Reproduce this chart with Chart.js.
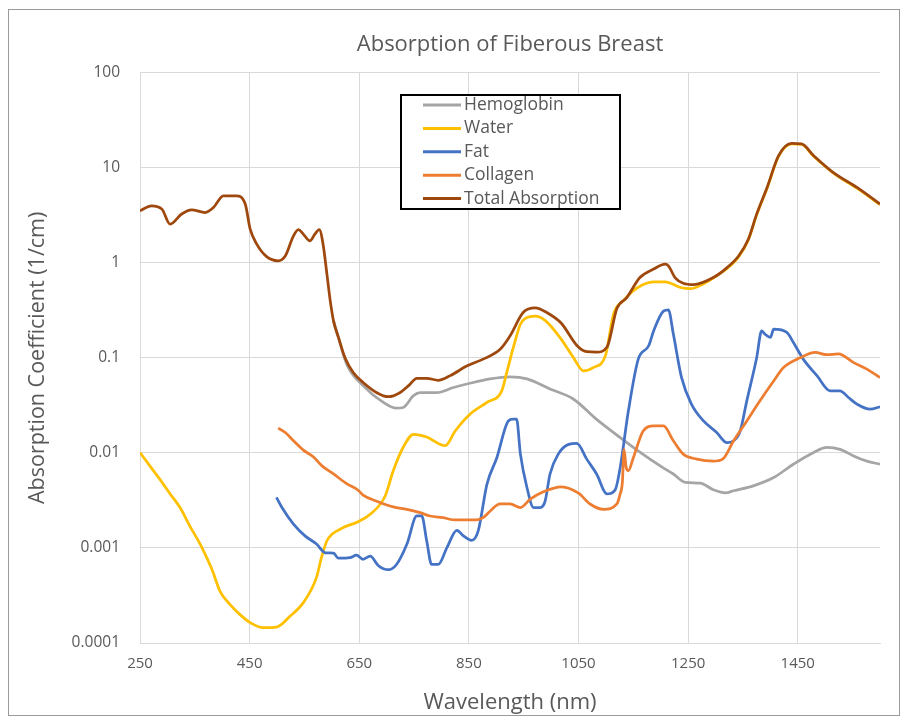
<!DOCTYPE html>
<html>
<head>
<meta charset="utf-8">
<script src="https://cdn.jsdelivr.net/npm/chart.js@4.4.0/dist/chart.umd.min.js"></script>
<style>
  body { margin: 0; background: #fff; }
</style>
</head>
<body>
<canvas id="myChart" width="902" height="719"></canvas>
<script>
// ---------------- data ----------------
var seriesNames = ['Hemoglobin', 'Water', 'Fat', 'Collagen', 'Total Absorption'];
var seriesColors = ['#A5A5A5', '#FFC000', '#4472C4', '#ED7D31', '#9E480E'];

var xTicks = [250, 450, 650, 850, 1050, 1250, 1450];
var yTicks = [100, 10, 1, 0.1, 0.01, 0.001, 0.0001];

var hbNm = [603, 612, 627, 657, 694, 718, 730, 749, 761, 791, 822, 852, 889, 925, 956, 998, 1041, 1083, 1126, 1162, 1199, 1223, 1245, 1272, 1296, 1318, 1333, 1369, 1406, 1442, 1479, 1503, 1527, 1552, 1576, 1600];
var hbVal = [0.245, 0.164, 0.086, 0.051, 0.034, 0.0295, 0.030, 0.040, 0.043, 0.043, 0.0487, 0.054, 0.060, 0.063, 0.060, 0.047, 0.0367, 0.0225, 0.0145, 0.0102, 0.0073, 0.0060, 0.0049, 0.0048, 0.0041, 0.0038, 0.0040, 0.0045, 0.0055, 0.0076, 0.0101, 0.0114, 0.0109, 0.0093, 0.0082, 0.0076];

var waterNm = [250, 268, 286, 305, 323, 341, 363, 381, 396, 414, 432, 451, 475, 499, 524, 548, 572, 581, 591, 600, 621, 648, 670, 697, 712, 730, 749, 773, 807, 825, 852, 883, 910, 919, 931, 944, 953, 971, 990, 1016, 1041, 1059, 1077, 1099, 1114, 1132, 1156, 1187, 1208, 1236, 1254, 1278, 1302, 1321, 1342, 1360, 1375, 1394, 1415, 1439, 1457, 1479, 1515, 1558, 1600];
var waterVal = [0.0101, 0.0073, 0.0053, 0.0037, 0.00266, 0.0017, 0.00101, 0.0006, 0.00035, 0.000255, 0.0002, 0.000164, 0.000145, 0.000147, 0.000192, 0.000266, 0.00049, 0.00079, 0.00119, 0.00139, 0.00164, 0.00189, 0.00226, 0.0035, 0.0065, 0.0114, 0.0157, 0.0147, 0.0119, 0.017, 0.0255, 0.034, 0.045, 0.07, 0.128, 0.226, 0.26, 0.275, 0.245, 0.164, 0.10, 0.073, 0.079, 0.105, 0.29, 0.40, 0.54, 0.63, 0.63, 0.55, 0.535, 0.60, 0.73, 0.87, 1.15, 1.75, 3.2, 6.1, 13.2, 17.8, 17.6, 13.2, 8.8, 6.1, 4.1];

var fatNm = [499, 509, 530, 551, 572, 588, 603, 612, 633, 645, 657, 670, 685, 703, 718, 737, 755, 764, 773, 782, 794, 810, 828, 840, 855, 867, 883, 901, 922, 931, 937, 944, 956, 968, 980, 989, 998, 1013, 1032, 1047, 1065, 1083, 1102, 1117, 1126, 1141, 1159, 1178, 1187, 1205, 1214, 1223, 1238, 1256, 1278, 1302, 1321, 1333, 1345, 1357, 1375, 1384, 1390, 1400, 1406, 1430, 1442, 1460, 1485, 1509, 1527, 1543, 1558, 1582, 1600];
var fatVal = [0.0034, 0.00266, 0.00178, 0.00134, 0.0011, 0.00089, 0.00088, 0.00078, 0.00079, 0.00084, 0.00076, 0.00082, 0.00065, 0.00059, 0.00067, 0.0011, 0.00217, 0.00217, 0.00119, 0.00067, 0.00067, 0.00101, 0.00153, 0.00134, 0.0012, 0.00151, 0.0047, 0.0089, 0.0217, 0.0226, 0.0226, 0.0097, 0.0043, 0.00266, 0.00266, 0.0031, 0.006, 0.0097, 0.0123, 0.0126, 0.0086, 0.006, 0.0037, 0.0041, 0.007, 0.0277, 0.097, 0.134, 0.192, 0.31, 0.32, 0.178, 0.062, 0.0326, 0.0217, 0.0164, 0.0128, 0.0134, 0.017, 0.0353, 0.10, 0.192, 0.178, 0.164, 0.20, 0.185, 0.145, 0.097, 0.065, 0.045, 0.045, 0.038, 0.0326, 0.0288, 0.0306];

var colNm = [502, 515, 530, 548, 566, 582, 603, 627, 648, 657, 682, 712, 737, 761, 779, 803, 825, 864, 876, 889, 907, 925, 944, 962, 986, 1019, 1050, 1071, 1096, 1120, 1126, 1130, 1133, 1137, 1141, 1150, 1168, 1187, 1205, 1223, 1241, 1266, 1296, 1313, 1333, 1357, 1381, 1406, 1424, 1454, 1482, 1503, 1524, 1552, 1576, 1600];
var colVal = [0.0182, 0.0164, 0.0134, 0.0107, 0.0091, 0.0073, 0.006, 0.00475, 0.00405, 0.0036, 0.0031, 0.0027, 0.00255, 0.00235, 0.00217, 0.00208, 0.00197, 0.00197, 0.00208, 0.00245, 0.0029, 0.0029, 0.00266, 0.00326, 0.0039, 0.0044, 0.00377, 0.0029, 0.00255, 0.0029, 0.0037, 0.0049, 0.0109, 0.007, 0.0065, 0.0089, 0.017, 0.0192, 0.0192, 0.0134, 0.0097, 0.0086, 0.0082, 0.0086, 0.0134, 0.0217, 0.0353, 0.057, 0.079, 0.10, 0.114, 0.108, 0.11, 0.089, 0.076, 0.062];

var totalNm = [250, 271, 290, 305, 326, 344, 369, 384, 402, 426, 442, 451, 463, 481, 502, 515, 530, 539, 548, 560, 569, 577, 584, 591, 597, 603, 612, 624, 639, 657, 682, 703, 724, 740, 755, 773, 794, 816, 846, 876, 907, 925, 949, 971, 992, 1019, 1047, 1065, 1083, 1102, 1120, 1138, 1162, 1187, 1208, 1214, 1226, 1241, 1260, 1296, 1321, 1342, 1360, 1375, 1394, 1415, 1439, 1457, 1479, 1515, 1558, 1600];
var totalVal = [3.53, 3.98, 3.67, 2.55, 3.26, 3.61, 3.38, 3.82, 5.07, 5.07, 4.15, 2.26, 1.57, 1.16, 1.05, 1.18, 1.92, 2.23, 2.0, 1.70, 2.0, 2.23, 1.57, 0.76, 0.40, 0.245, 0.164, 0.10, 0.070, 0.055, 0.043, 0.039, 0.043, 0.051, 0.061, 0.061, 0.058, 0.065, 0.082, 0.097, 0.123, 0.170, 0.30, 0.335, 0.30, 0.23, 0.135, 0.116, 0.115, 0.13, 0.33, 0.43, 0.70, 0.86, 0.97, 0.93, 0.70, 0.61, 0.59, 0.70, 0.89, 1.18, 1.78, 3.25, 6.2, 13.4, 18.0, 17.8, 13.4, 8.9, 6.2, 4.15];

// ----------------------------------------------------------

var chartTitle = 'Absorption of Fiberous Breast';
var textColor = '#595959';
var fontName = "'Open Sans', 'Noto Sans', sans-serif";

function toPoints(xs, ys) {
    var pts = [];
    for (var i = 0; i < xs.length; i++) {
        pts.push({x: xs[i], y: ys[i]});
    }
    return pts;
}

var allNm = [hbNm, waterNm, fatNm, colNm, totalNm];
var allVal = [hbVal, waterVal, fatVal, colVal, totalVal];
// excel draws later series on top
var drawOrder = [4, 3, 2, 1, 0];

var datasets = [];
for (var i = 0; i < seriesNames.length; i++) {
    datasets.push({
        label: seriesNames[i],
        data: toPoints(allNm[i], allVal[i]),
        borderColor: seriesColors[i],
        backgroundColor: seriesColors[i],
        borderWidth: 2.75,
        pointRadius: 0,
        cubicInterpolationMode: 'monotone',
        order: drawOrder[i],
        fill: false
    });
}

// boxed legend inside the plot, like the excel one
var boxLegend = {
    id: 'boxLegend',
    afterDraw: function(chart) {
        var ctx = chart.ctx;
        ctx.save();
        ctx.fillStyle = '#ffffff';
        ctx.fillRect(401, 95, 219, 114);
        ctx.strokeStyle = '#000000';
        ctx.lineWidth = 2;
        ctx.strokeRect(401, 95, 219, 114);
        ctx.font = '17.5px ' + fontName;
        ctx.textBaseline = 'middle';
        for (var i = 0; i < seriesNames.length; i++) {
            var y = 105 + i * 23.4;
            ctx.strokeStyle = seriesColors[i];
            ctx.lineWidth = 3;
            ctx.beginPath();
            ctx.moveTo(423, y);
            ctx.lineTo(461, y);
            ctx.stroke();
            ctx.fillStyle = textColor;
            ctx.fillText(seriesNames[i], 464, y);
        }
        ctx.restore();
    }
};

// outer frame + title centred over the plot area
var frame = {
    id: 'frame',
    beforeDraw: function(chart) {
        var ctx = chart.ctx;
        ctx.save();
        ctx.fillStyle = '#ffffff';
        ctx.fillRect(0, 0, chart.width, chart.height);
        ctx.strokeStyle = '#9a9a9a';
        ctx.lineWidth = 1;
        ctx.strokeRect(8.5, 9.5, 891, 706);
        var area = chart.chartArea;
        ctx.fillStyle = textColor;
        ctx.font = '22px ' + fontName;
        ctx.textAlign = 'center';
        ctx.textBaseline = 'middle';
        ctx.fillText(chartTitle, (area.left + area.right) / 2, 45);
        ctx.restore();
    }
};

var myChart = new Chart(document.getElementById('myChart').getContext('2d'), {
    type: 'line',
    data: { datasets: datasets },
    plugins: [frame, boxLegend],
    options: {
        responsive: false,
        animation: false,
        layout: { padding: { left: 0, right: 22, top: 72.7, bottom: 0 } },
        plugins: {
            legend: { display: false },
            tooltip: { enabled: false },
            title: { display: false }
        },
        scales: {
            x: {
                type: 'linear',
                min: 250,
                max: 1600,
                afterBuildTicks: function(scale) {
                    scale.ticks = xTicks.map(function(v) { return {value: v}; });
                },
                afterFit: function(scale) { scale.height = 76; },
                grid: { color: '#D9D9D9', drawTicks: false },
                border: { color: '#D9D9D9' },
                ticks: {
                    color: textColor,
                    padding: 12,
                    maxRotation: 0,
                    font: { family: fontName, size: 15 },
                    callback: function(v) { return String(v); }
                },
                title: {
                    display: true,
                    text: 'Wavelength (nm)',
                    color: textColor,
                    font: { family: fontName, size: 22 },
                    padding: { top: 0, bottom: 3 }
                }
            },
            y: {
                type: 'logarithmic',
                min: 0.0001,
                max: 100,
                afterBuildTicks: function(scale) {
                    scale.ticks = yTicks.map(function(v) { return {value: v}; });
                },
                afterFit: function(scale) { scale.width = 140; },
                grid: { color: '#D9D9D9', drawTicks: false },
                border: { color: '#D9D9D9' },
                ticks: {
                    color: textColor,
                    padding: 20,
                    font: { family: fontName, size: 15.5 },
                    callback: function(v) { return String(v); }
                },
                title: {
                    display: true,
                    text: 'Absorption Coefficient (1/cm)',
                    color: textColor,
                    font: { family: fontName, size: 21.5 },
                    padding: { top: 25, bottom: 0 }
                }
            }
        }
    }
});
</script>
</body>
</html>
